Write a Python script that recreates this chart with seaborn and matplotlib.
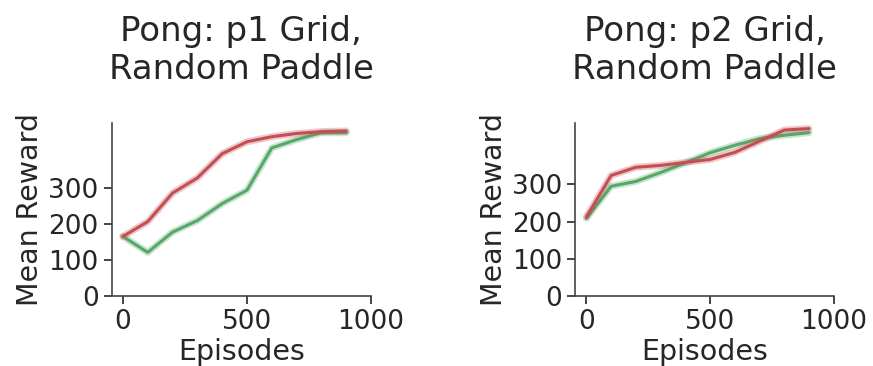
import numpy as np
import pandas as pd
import matplotlib
matplotlib.use("Agg")
import matplotlib.pyplot as plt
import seaborn as sns

sns.set_theme(style="ticks")

episodes = [0, 100, 200, 300, 400, 500, 600, 700, 800, 900]

# p1 grid
p1_red = [165, 206, 285, 327, 394, 427, 441, 450, 455, 457]
p1_green = [165, 121, 177, 209, 256, 293, 410, 433, 452, 452]

# p2 grid
p2_red = [213, 324, 346, 351, 359, 367, 386, 416, 446, 450]
p2_green = [209, 295, 308, 332, 358, 385, 405, 423, 432, 439]

titles = ["Pong: p1 Grid,\nRandom Paddle", "Pong: p2 Grid,\nRandom Paddle"]
panels = [(p1_green, p1_red), (p2_green, p2_red)]
ytops = [478, 464]

red = sns.color_palette("deep")[3]
green = sns.color_palette("deep")[2]

fig = plt.figure(figsize=(8.73, 3.66), dpi=100)
axes = [fig.add_axes([0.128, 0.191, 0.297, 0.472]),
        fig.add_axes([0.659, 0.191, 0.296, 0.472])]

for ax, title, (g, r), top in zip(axes, titles, panels, ytops):
    for vals, col in [(g, green), (r, red)]:
        df = pd.DataFrame({"Episodes": episodes, "Mean Reward": vals})
        sns.lineplot(data=df, x="Episodes", y="Mean Reward", color=col,
                     lw=5, alpha=0.3, ax=ax)
        sns.lineplot(data=df, x="Episodes", y="Mean Reward", color=col,
                     lw=2.2, ax=ax)
    ax.set_xlim(-45, 1000)
    ax.set_ylim(0, top)
    ax.set_xticks([0, 500, 1000])
    ax.set_yticks([0, 100, 200, 300])
    ax.tick_params(labelsize=19, length=6, width=1.2, colors="#262626")
    ax.set_xlabel("Episodes", fontsize=20.5, color="#262626", labelpad=2)
    ax.set_ylabel("Mean Reward", fontsize=20.5, color="#262626", labelpad=3)
    ax.set_title(title, fontsize=24.5, color="#262626", pad=32)
    for s in ["left", "bottom"]:
        ax.spines[s].set_linewidth(1.2)
        ax.spines[s].set_color("#444444")
    sns.despine(ax=ax)

fig.savefig("out.png", dpi=100)
